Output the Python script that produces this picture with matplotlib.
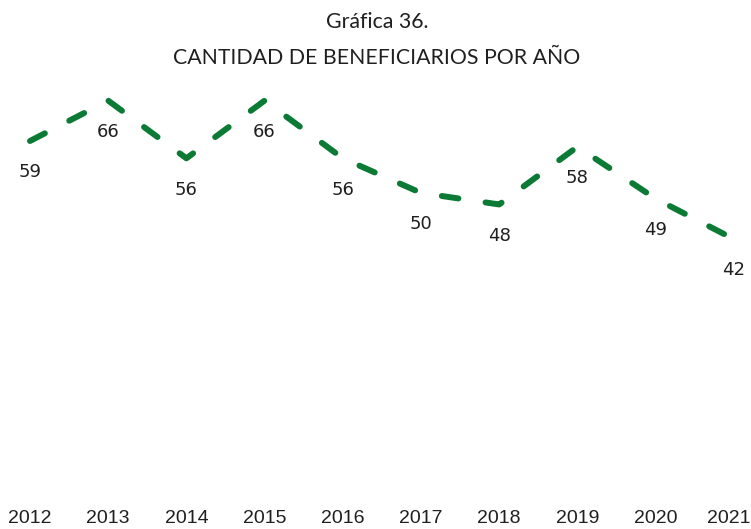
import matplotlib
matplotlib.use("Agg")
import matplotlib.pyplot as plt
from matplotlib.transforms import ScaledTranslation

years = ["2012", "2013", "2014", "2015", "2016", "2017", "2018", "2019", "2020", "2021"]
beneficiarios = [59, 66, 56, 66, 56, 50, 48, 58, 49, 42]

W, H, DPI = 751, 529, 100
fig = plt.figure(figsize=(W / DPI, H / DPI), dpi=DPI)

green = "#0B7A34"
text_col = "#1f1f1f"

# plot area (pixel geometry converted to figure fractions)
y0_px, ytop_px = 481.4, 80.0
ax = fig.add_axes([0, (H - y0_px) / H, 1, (y0_px - ytop_px) / H])
x = list(range(len(years)))
ax.plot(x, beneficiarios, color=green, lw=4.3, linestyle=(0, (2.8, 4.6)),
        dash_capstyle="round", solid_capstyle="round")

step = 78.2
xmin = -30 / step
ax.set_xlim(xmin, xmin + W / step)
ax.set_ylim(0, 59 + (141 - ytop_px) / 5.77)

for xi, v in zip(x, beneficiarios):
    ax.annotate(str(v), (xi, v), xytext=(0, -22.5), textcoords="offset points",
                ha="center", va="center", fontsize=13, color=text_col,
                fontfamily="DejaVu Sans")

ax.set_xticks(x)
ax.set_xticklabels(years, fontfamily="Liberation Sans", fontsize=14, color=text_col)
ax.tick_params(axis="x", length=0, pad=20.6)
# keep the last year label inside the figure edge
last = ax.get_xticklabels()[-1]
last.set_transform(last.get_transform() + ScaledTranslation(-5 / DPI, 0, fig.dpi_scale_trans))
ax.set_yticks([])
for s in ax.spines.values():
    s.set_visible(False)
ax.patch.set_alpha(0)

fig.text(377 / W, 1 - 22 / H, "Gráfica 36.", ha="center", va="center",
         fontfamily="Lato", fontsize=15.3, color=text_col)
fig.text(377 / W, 1 - 58 / H, "CANTIDAD DE BENEFICIARIOS POR AÑO", ha="center",
         va="center", fontfamily="Lato", fontsize=15.3, color=text_col)

fig.savefig("out.png", dpi=DPI, facecolor="white")
